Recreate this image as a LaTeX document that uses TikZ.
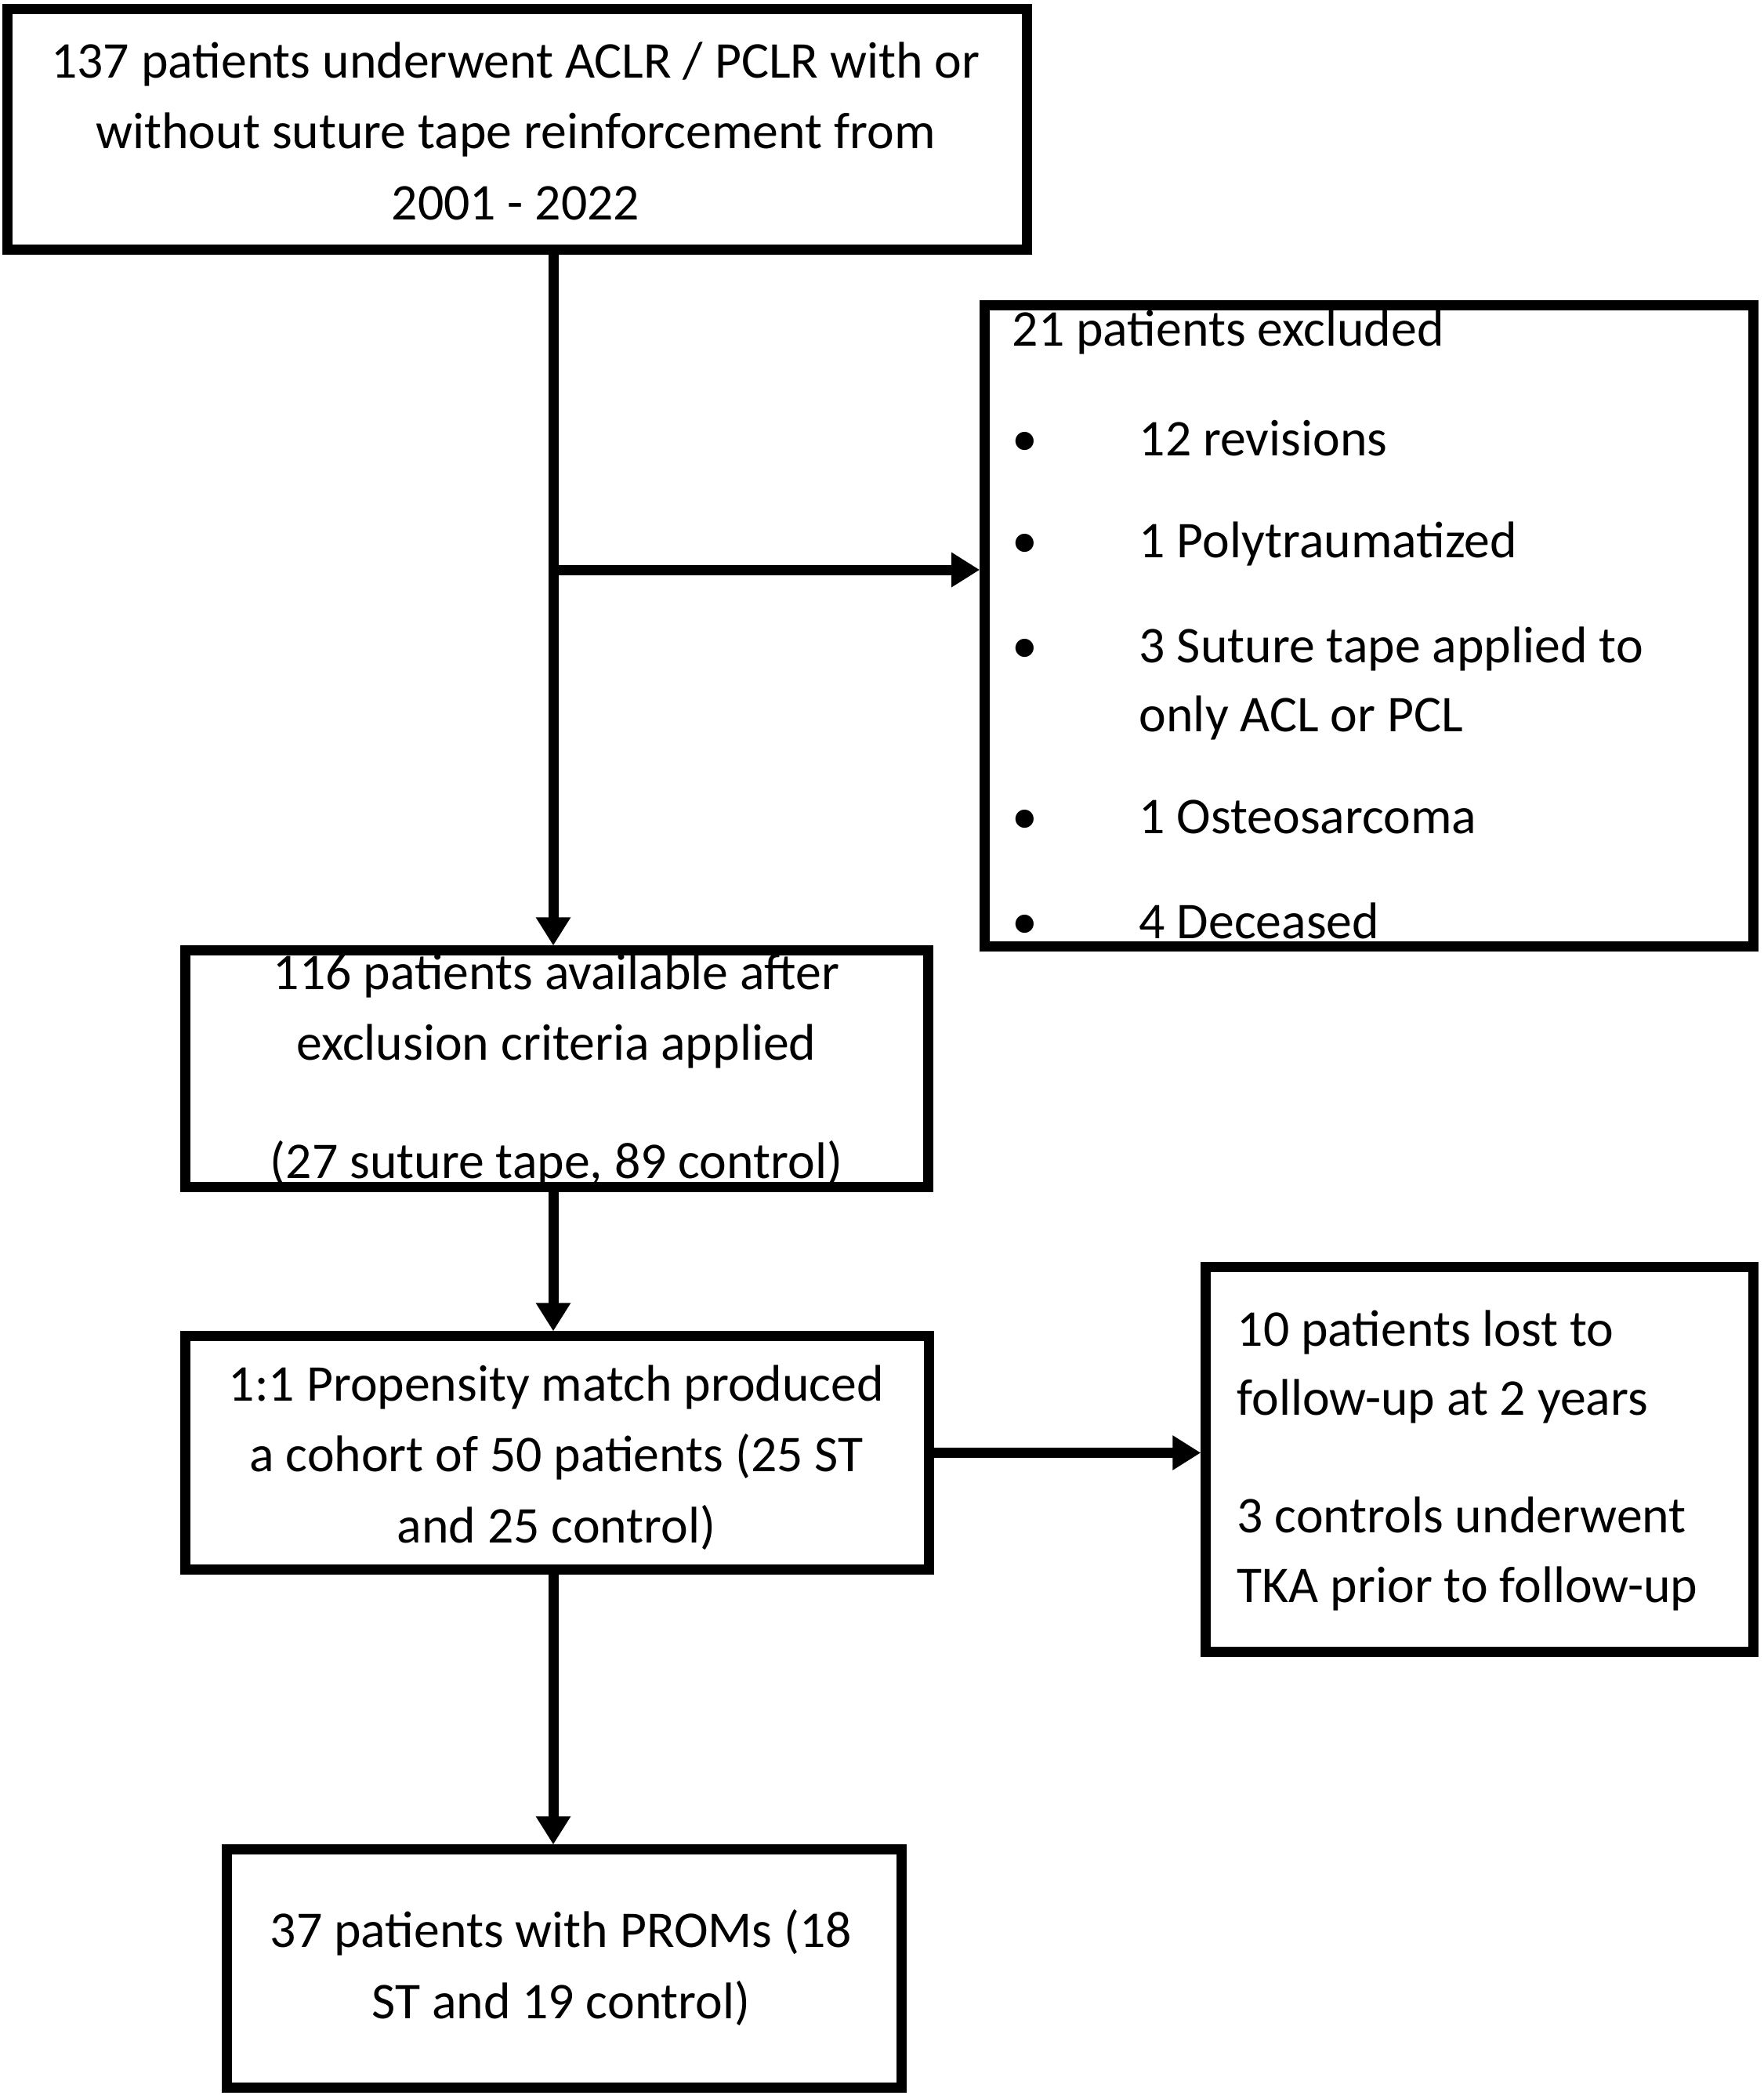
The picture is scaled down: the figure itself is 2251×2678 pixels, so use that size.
\documentclass[tikz,border=0pt]{standalone}
\usepackage{fontspec}
\setmainfont{Carlito}
\usetikzlibrary{arrows.meta}
\begin{document}
\begin{tikzpicture}[x=0.01cm,y=-0.01cm,
  box/.style={draw=black, line width=0.13cm, rectangle, inner sep=0pt},
  txt/.style={font=\fontsize{18.7}{0.90cm}\selectfont, inner sep=0pt, align=center},
  ltxt/.style={font=\fontsize{18.7}{0.88cm}\selectfont, inner sep=0pt, align=left},
  arr/.style={line width=0.13cm, -{Triangle[length=0.36cm,width=0.42cm]}}]
\fill[white] (0,0) rectangle (2251,2678);
\useasboundingbox (0,0) rectangle (2251,2678);

% boxes
\node[box, minimum width=13cm,   minimum height=3.06cm] (b1)    at (660,165) {};
\node[box, minimum width=9.8cm,  minimum height=8.17cm] (excl)  at (1747,798.5) {};
\node[box, minimum width=9.47cm, minimum height=3.01cm] (avail) at (710.5,1363.5) {};
\node[box, minimum width=9.48cm, minimum height=2.97cm] (prop)  at (711,1853.5) {};
\node[box, minimum width=6.98cm, minimum height=4.9cm]  (lost)  at (1888,1862) {};
\node[box, minimum width=8.6cm,  minimum height=3.03cm] (final) at (720,2511.5) {};

% connectors
\coordinate (trunk) at (706,727);
\draw[arr] (b1.south -| trunk) -- (avail.north -| trunk);
\draw[arr] (trunk) -- (trunk -| excl.west);
\draw[arr] (avail.south -| trunk) -- (prop.north -| trunk);
\draw[arr] (prop.east) -- (prop.east -| lost.west);
\draw[arr] (prop.south -| trunk) -- (final.north -| trunk);

% texts (base anchor = baseline of last line)
\node[txt, anchor=base] (t1) at (658,280) {137 patients underwent ACLR / PCLR with or\\without suture tape reinforcement from\\2001 - 2022};
\node[ltxt, anchor=base west] (texcl) at (1291,1197) {21 patients excluded\\[0.52cm]
\makebox[1.62cm][l]{•}12 revisions\\[0.42cm]
\makebox[1.62cm][l]{•}1 Polytraumatized\\[0.46cm]
\makebox[1.62cm][l]{•}3 Suture tape applied to\\
\hspace*{1.62cm}only ACL or PCL\\[0.42cm]
\makebox[1.62cm][l]{•}1 Osteosarcoma\\[0.45cm]
\makebox[1.62cm][l]{•}4 Deceased};
\node[txt, anchor=base] (tavail) at (710,1503) {116 patients available after\\exclusion criteria applied\\[0.6cm](27 suture tape, 89 control)};
\node[txt, anchor=base] (tprop) at (710,1968) {1:1 Propensity match produced\\a cohort of 50 patients (25 ST\\and 25 control)};
\node[ltxt, anchor=base west] (tlost) at (1578,2044) {10 patients lost to\\follow-up at 2 years\\[0.62cm]3 controls underwent\\TKA prior to follow-up};
\node[txt, anchor=base] (tfinal) at (716,2575) {37 patients with PROMs (18\\ST and 19 control)};
\end{tikzpicture}
\end{document}
